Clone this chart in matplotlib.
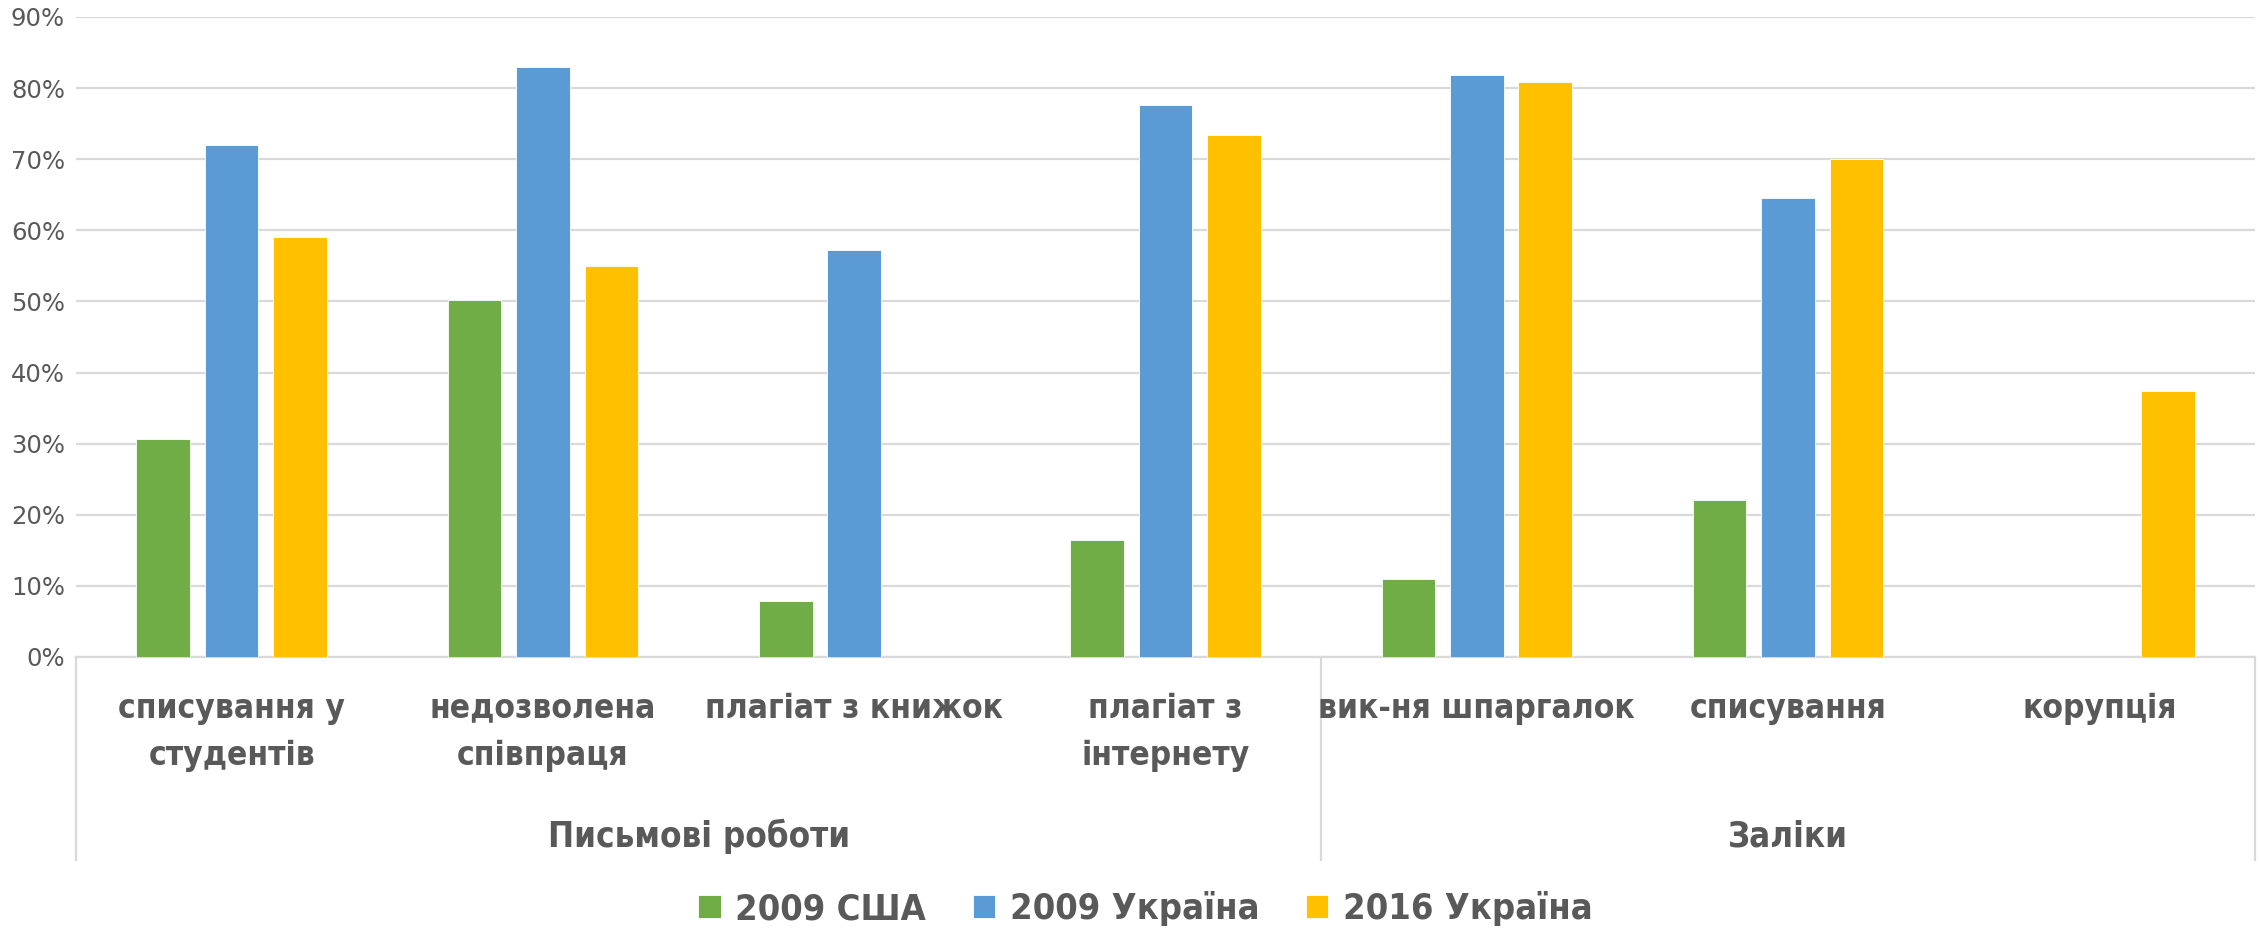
import matplotlib
matplotlib.use("Agg")
import matplotlib.pyplot as plt
import numpy as np
from matplotlib.ticker import PercentFormatter

plt.rcParams['font.family'] = ['DejaVu Sans']
plt.rcParams['font.stretch'] = 'condensed'

# data
categories = ["списування у\nстудентів", "недозволена\nспівпраця", "плагіат з книжок",
              "плагіат з\nінтернету", "вик-ня шпаргалок", "списування", "корупція"]
groups = ["Письмові роботи", "Заліки"]
group_sizes = [4, 3]
series_names = ["2009 США", "2009 Україна", "2016 Україна"]
usa_2009 = [0.307, 0.502, 0.079, 0.165, 0.110, 0.221, np.nan]
ukr_2009 = [0.720, 0.830, 0.573, 0.776, 0.819, 0.646, np.nan]
ukr_2016 = [0.590, 0.550, np.nan, 0.734, 0.809, 0.700, 0.374]

colors = ["#70AD47", "#5B9BD5", "#FFC000"]
text_color = "#595959"
grid_color = "#D9D9D9"

W, H = 2259, 934
fig = plt.figure(figsize=(W / 100, H / 100), dpi=100)
ax = fig.add_axes([76 / W, 1 - 657 / H, (2255 - 76) / W, (657 - 17) / H])

x = np.arange(len(categories))
step, width = 0.22, 0.172
for i, (vals, name) in enumerate(zip([usa_2009, ukr_2009, ukr_2016], series_names)):
    ax.bar(x + (i - 1) * step, vals, width, color=colors[i], label=name,
           edgecolor="white", linewidth=0.6, zorder=3)

ax.set_xlim(-0.5, len(categories) - 0.5)
ax.set_ylim(0, 0.9)
ax.set_yticks(np.arange(0, 0.91, 0.1))
ax.yaxis.set_major_formatter(PercentFormatter(1.0, decimals=0))
ax.tick_params(axis="y", length=0, pad=8, labelsize=17.5, labelcolor=text_color)
for lab in ax.get_yticklabels():
    lab.set_fontstretch('normal')
ax.set_xticks([])
ax.grid(axis="y", color=grid_color, linewidth=1.6, zorder=0)
for s in ["left", "right", "top"]:
    ax.spines[s].set_visible(False)
ax.spines["bottom"].set_color(grid_color)
ax.spines["bottom"].set_linewidth(1.6)

# multi-level category axis
tr = ax.get_xaxis_transform()
box_bottom = -0.317
for xb in [-0.5, group_sizes[0] - 0.5, len(categories) - 0.5]:
    ax.plot([xb, xb], [0, box_bottom], transform=tr, color=grid_color,
            linewidth=1.6, clip_on=False)

for xi, cat in zip(x, categories):
    ax.text(xi, -0.054, cat, transform=tr, ha="center", va="top",
            fontsize=24, fontweight="bold", color=text_color, linespacing=1.55)

start = 0
for g, n in zip(groups, group_sizes):
    xc = start + (n - 1) / 2
    ax.text(xc, -0.281, g, transform=tr, ha="center", va="center",
            fontsize=25, fontweight="bold", color=text_color)
    start += n

leg = fig.legend(loc="center", bbox_to_anchor=(0.507, 0.027), ncol=3, frameon=False,
                 prop={"size": 26, "weight": "bold", "stretch": "condensed"},
                 handlelength=0.62, handleheight=0.62,
                 handletextpad=0.4, columnspacing=1.3)
for t in leg.get_texts():
    t.set_color(text_color)

fig.savefig("out.png", dpi=100)
